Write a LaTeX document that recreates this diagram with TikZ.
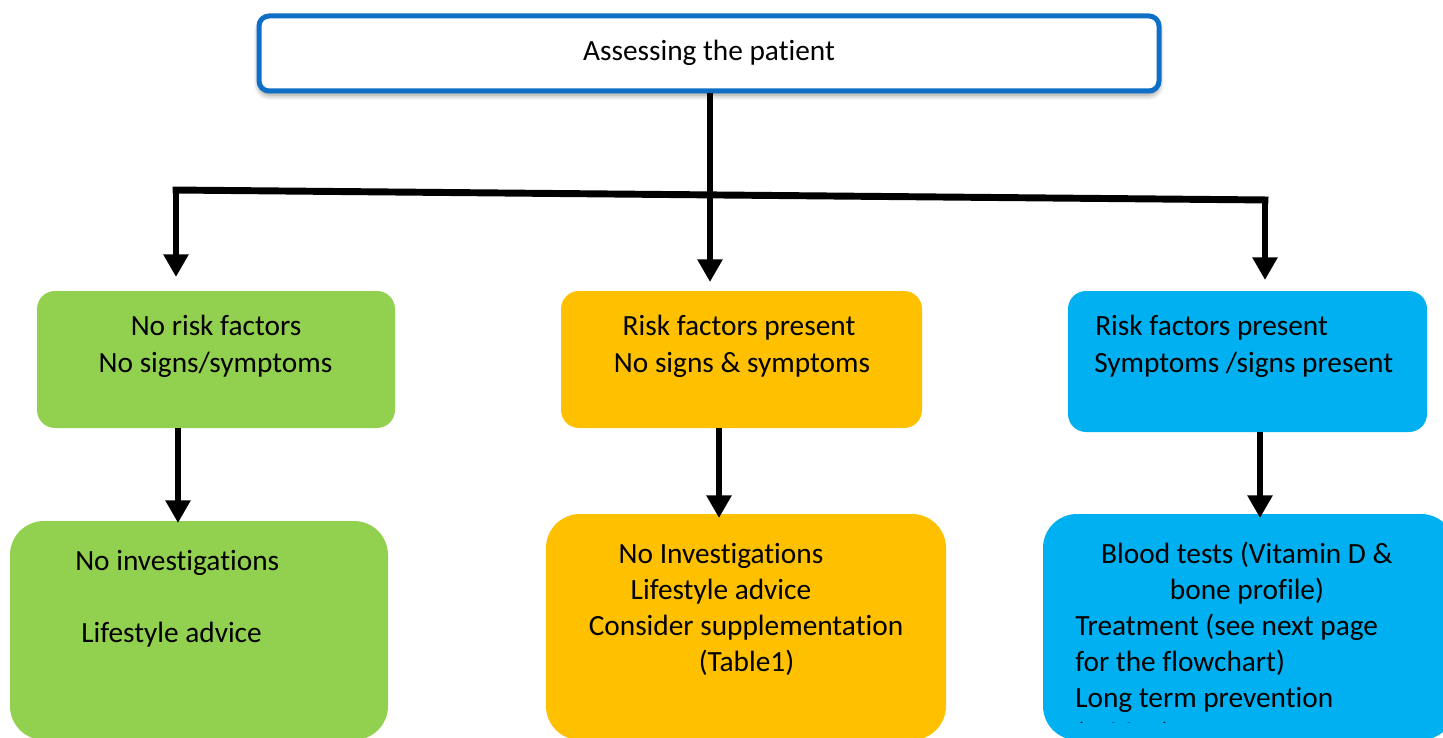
\documentclass[tikz,border=0pt]{standalone}
\usepackage{fontspec}
\setmainfont[Ligatures=NoCommon]{Carlito}
\usetikzlibrary{arrows.meta,shadows.blur}
\definecolor{cgreen}{HTML}{92D050}
\definecolor{corange}{HTML}{FFC000}
\definecolor{cblue}{HTML}{00B0F0}
\definecolor{cborder}{HTML}{0F6FC6}
\begin{document}
\begin{tikzpicture}[x=0.75pt,y=-0.75pt,
  txt/.style={inner sep=0pt,font=\fontsize{22}{27.75}\selectfont,text=black},
  boxa/.style={draw=none,rounded corners=18*0.75pt,inner sep=0pt},
  boxb/.style={draw=none,rounded corners=34*0.75pt,inner sep=0pt},
  conn/.style={line width=5.2pt,black,miter limit=10},
  tip/.style={-{Triangle[width=18pt,length=17pt]}}
]
\useasboundingbox (0,0) rectangle (1443,738);
\begin{scope}
\clip (0,0) rectangle (1443,738);
% top box
\node[draw=cborder,line width=3.75pt,fill=white,rounded corners=7.5pt,
  minimum width=900*0.75pt,minimum height=75*0.75pt,inner sep=0pt,
  blur shadow={shadow xshift=0pt,shadow yshift=-3pt,shadow blur radius=4pt,shadow opacity=45}]
  (top) at (709,53.5) {};
\node[txt,anchor=base] (ttop) at (709,61) {Assessing the patient};

% row 1 boxes
\node[boxa,fill=cgreen,minimum width=358*0.75pt,minimum height=137*0.75pt] (g1) at (216,359.5) {};
\node[boxa,fill=corange,minimum width=361*0.75pt,minimum height=137*0.75pt] (o1) at (741.5,359.5) {};
\node[boxa,fill=cblue,minimum width=359*0.75pt,minimum height=141*0.75pt] (b1) at (1247.5,361.5) {};

\node[txt,anchor=base] (g1a) at (216,335) {No risk factors};
\node[txt,anchor=base] (g1b) at (215.5,372) {No signs/symptoms};
\node[txt,anchor=base] (o1a) at (739,335) {Risk factors present};
\node[txt,anchor=base] (o1b) at (742,372) {No signs \& symptoms};
\node[txt,anchor=base west] (b1a) at (1095,335) {Risk factors present};
\node[txt,anchor=base west] (b1b) at (1094,372) {Symptoms /signs present};

% row 2 boxes
\node[boxb,fill=cgreen,minimum width=378*0.75pt,minimum height=219*0.75pt] (g2) at (199,630.5) {};
\node[boxb,fill=corange,minimum width=400*0.75pt,minimum height=226*0.75pt] (o2) at (746,627) {};
\node[boxb,fill=cblue,minimum width=412*0.75pt,minimum height=226*0.75pt] (b2) at (1249,627) {};

\node[txt,anchor=base west] (g2a) at (75,570) {No investigations};
\node[txt,anchor=base west] (g2b) at (81,642) {Lifestyle advice};

\node[txt,anchor=base] (o2a) at (721,563) {No Investigations};
\node[txt,anchor=base] (o2b) at (721,599) {Lifestyle advice};
\node[txt,anchor=base] (o2c) at (746,635) {Consider supplementation};
\node[txt,anchor=base] (o2d) at (746.5,671) {(Table1)};

\node[txt,anchor=base] (b2a) at (1247,563) {Blood tests (Vitamin D \&};
\node[txt,anchor=base] (b2b) at (1247,599) {bone profile)};
\node[txt,anchor=base west] (b2c) at (1075,635) {Treatment (see next page};
\node[txt,anchor=base west] (b2d) at (1075,671) {for the flowchart)};
\node[txt,anchor=base west] (b2e) at (1075,707) {Long term prevention};
\begin{scope}
\clip (1040,500) rectangle (1443,722);
\node[txt,anchor=base west] (b2f) at (1075,743) {(Table1)};
\end{scope}

% connectors
\coordinate (jl) at (176,190);
\coordinate (jr) at (1265,200);
\coordinate (tl) at (176,277);
\coordinate (tm) at (710,282);
\coordinate (tr) at (1265,280);
\draw[conn,tip] (jl) -- (tl);
\draw[conn,tip] (jr) -- (tr);
\draw[conn] ([xshift=-2.6pt]jl) -- ([xshift=2.6pt]jr);
\draw[conn,tip] (top.south -| tm) -- (tm);

\draw[conn,tip] (g1.south -| 178,0) -- (178,523);
\draw[conn,tip] (o1.south -| 719,0) -- (719,518);
\draw[conn,tip] (b1.south -| 1260,0) -- (1260,518);
\end{scope}
\end{tikzpicture}
\end{document}
